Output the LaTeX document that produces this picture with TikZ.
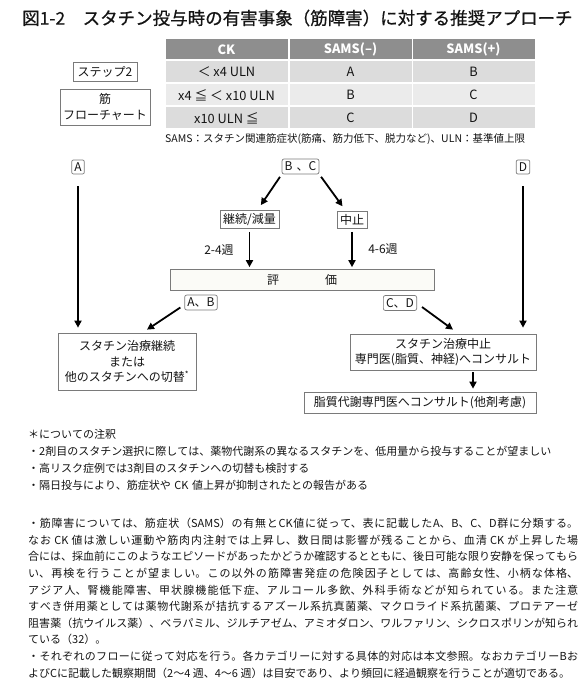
\documentclass[tikz,border=0pt]{standalone}
\usepackage{fontspec}
\setmainfont{Noto Sans CJK JP}
\newfontfamily\titlefont{Noto Sans CJK JP}[FakeBold=0.7]
\usetikzlibrary{arrows.meta,calc}
\XeTeXlinebreaklocale "ja"
\XeTeXlinebreakskip=0pt plus 1.5pt minus 0.4pt
\definecolor{hdr}{HTML}{8E8E8E}
\definecolor{rowa}{HTML}{DCDCDC}
\definecolor{rowb}{HTML}{EBEBEB}
\definecolor{bord}{HTML}{7A7A7A}
\definecolor{txt}{HTML}{141414}
\definecolor{evalfill}{HTML}{FBFBF7}
\begin{document}
\begin{tikzpicture}[x=1pt,y=-1pt,
  every node/.style={text=txt},
  lbl/.style={draw=bord, line width=0.7pt, rounded corners=2pt, fill=white, inner sep=2.7pt, font=\fontsize{12}{14}\selectfont},
  sbox/.style={draw=bord, line width=0.7pt, fill=white, inner sep=3pt, font=\fontsize{12}{15.5}\selectfont, align=center},
  arr/.style={line width=1.8pt, draw=black, -{Triangle[length=7pt,width=7pt]}},
  cell/.style={minimum width=122pt, minimum height=21pt, inner sep=0pt, font=\fontsize{12.8}{14}\selectfont},
  hcell/.style={cell, fill=hdr, text=white, minimum height=20.5pt, font=\fontsize{12.8}{14}\selectfont\bfseries},
  wk/.style={font=\fontsize{12}{14}\selectfont, inner sep=0pt},
]
\useasboundingbox (0,0) rectangle (586,684);

% table
\node[hcell] (h1) at (226.5,49.25) {CK};
\node[hcell] (h2) at (350.5,49.25) {SAMS(–)};
\node[hcell] (h3) at (473.5,49.25) {SAMS(+)};
\node[cell, fill=rowa] (a1) at (226.5,72) {＜ x4 ULN};
\node[cell, fill=rowa] (a2) at (350.5,72) {A};
\node[cell, fill=rowa] (a3) at (473.5,72) {B};
\node[cell, fill=rowb] (b1) at (226.5,95) {x4 ≦ ＜ x10 ULN};
\node[cell, fill=rowb] (b2) at (350.5,95) {B};
\node[cell, fill=rowb] (b3) at (473.5,95) {C};
\node[cell, fill=rowa] (c1) at (226.5,118) {x10 ULN ≦};
\node[cell, fill=rowa] (c2) at (350.5,118) {C};
\node[cell, fill=rowa] (c3) at (473.5,118) {D};

\node[sbox, minimum width=64pt, minimum height=19pt] (step) at (105,72) {ステップ2};
\node[sbox, minimum width=89pt, minimum height=36pt, font=\fontsize{12}{16}\selectfont] (flow) at (105,107) {筋\\フローチャート};

\node[anchor=west, inner sep=0pt, font=\fontsize{10.5}{12}\selectfont] (cap) at (165,139)
  {SAMS：スタチン関連筋症状(筋痛、筋力低下、脱力など)、ULN：基準値上限};

% flowchart
\node[lbl] (nA) at (78,167) {A};
\node[lbl] (nBC) at (300.5,166.5) {B\,\,、C};
\node[lbl] (nD) at (523,167) {D};
\node[sbox] (K) at (249.5,219.5) {継続/減量};
\node[sbox] (S) at (352,220) {中止};
\node[wk] (w1) at (219,250) {2-4週};
\node[wk] (w2) at (383,249) {4-6週};
\node[draw=bord, line width=0.7pt, fill=evalfill, minimum width=264pt, minimum height=21pt, inner sep=0pt, font=\fontsize{12}{14}\selectfont] (E) at (302,280) {評\hspace{46pt}価};
\node[lbl] (AB) at (201,302.5) {A、B};
\node[lbl] (CD) at (400,303) {C、D};
\node[sbox, minimum width=138pt, minimum height=57pt] (L) at (127,361.5)
  {スタチン治療継続\\または\\他のスタチンへの切替\textsuperscript{*}};
\node[sbox, minimum width=186pt, minimum height=36pt] (R) at (443,352)
  {スタチン治療中止\\専門医(脂質、神経)へコンサルト};
\node[sbox, minimum width=232pt, minimum height=21pt] (Bt) at (420,402.5)
  {脂質代謝専門医へコンサルト(他剤考慮)};

\draw[arr, shorten <=12pt, shorten >=5pt] (nA.south) -- (nA.south |- L.north);
\draw[arr, shorten <=12pt, shorten >=6pt] (nD.south) -- (nD.south |- R.north);
\draw[arr, shorten <=3pt, shorten >=6pt] (nBC.south west) -- ($(K.north)+(8,0)$);
\draw[arr, shorten <=3pt, shorten >=6pt] (nBC.south east) -- ($(S.north)+(-6,0)$);
\draw[arr, shorten <=3pt, shorten >=2pt] (K.south) -- (K.south |- E.north);
\draw[arr, shorten <=3pt, shorten >=2pt] (S.south) -- (S.south |- E.north);
\draw[arr] ($(AB.west)+(-4,5)$) -- ($(L.north)+(20,-3)$);
\draw[arr] ($(CD.east)+(5,4)$) -- ($(R.north)+(10,-4)$);
\draw[arr] ($(R.south)+(30,2)$) -- ($(Bt.north)+(53,-3)$);

% notes
\node[anchor=north west, inner sep=0pt, text width=550pt, align=left, font=\fontsize{11}{17}\selectfont] (n1) at (28,429)
  {＊についての注釈\\
  ・2剤目のスタチン選択に際しては、薬物代謝系の異なるスタチンを、低用量から投与することが望ましい\\
  ・高リスク症例では3剤目のスタチンへの切替も検討する\\
  ・隔日投与により、筋症状や CK 値上昇が抑制されたとの報告がある};

\node[anchor=north west, inner sep=0pt, text width=550pt, align=justify, font=\fontsize{11}{16.6}\selectfont] (n2) at (28,518)
  {\noindent ・筋障害については、筋症状（SAMS）の有無とCK値に従って、表に記載したA、B、C、D群に分類する。\linebreak
  なお CK 値は激しい運動や筋肉内注射では上昇し、数日間は影響が残ることから、血清 CK が上昇した場\linebreak
  合には、採血前にこのようなエピソードがあったかどうか確認するとともに、後日可能な限り安静を保ってもら\linebreak
  い、再検を行うことが望ましい。この以外の筋障害発症の危険因子としては、高齢女性、小柄な体格、\linebreak
  アジア人、腎機能障害、甲状腺機能低下症、アルコール多飲、外科手術などが知られている。また注意\linebreak
  すべき併用薬としては薬物代謝系が拮抗するアズール系抗真菌薬、マクロライド系抗菌薬、プロテアーゼ\linebreak
  阻害薬（抗ウイルス薬）、ベラパミル、ジルチアゼム、アミオダロン、ワルファリン、シクロスポリンが知られ\linebreak
  ている（32）。\newline
  ・それぞれのフローに従って対応を行う。各カテゴリーに対する具体的対応は本文参照。なおカテゴリーBお\linebreak
  よびCに記載した観察期間（2～4 週、4～6 週）は目安であり、より頻回に経過観察を行うことが適切である。};

% title (drawn last)
\node[anchor=west, inner sep=0pt, font=\titlefont\fontsize{17.5}{20}\selectfont] (title) at (22,18)
  {図1-2　スタチン投与時の有害事象（筋障害）に対する推奨アプローチ};
\end{tikzpicture}
\end{document}
